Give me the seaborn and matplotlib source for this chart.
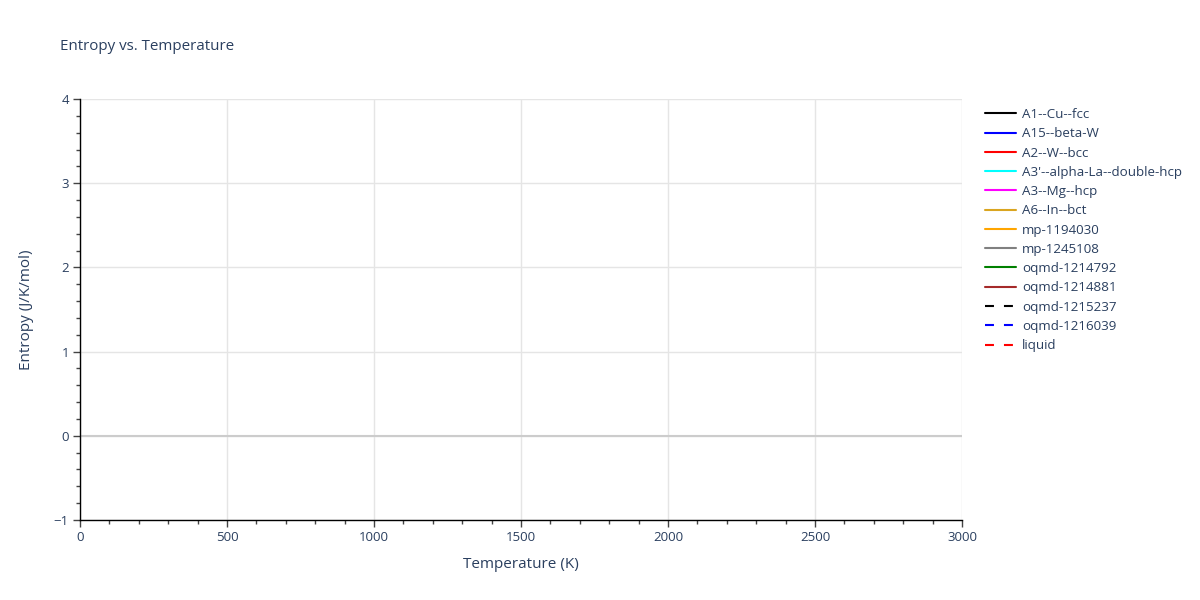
import numpy as np
import pandas as pd
import matplotlib
matplotlib.use('Agg')
import matplotlib.pyplot as plt
import seaborn as sns
from matplotlib.ticker import MultipleLocator

# series shown in the legend (no data points are drawn in the reference)
names = ['A1--Cu--fcc', 'A15--beta-W', 'A2--W--bcc', "A3'--alpha-La--double-hcp",
         'A3--Mg--hcp', 'A6--In--bct', 'mp-1194030', 'mp-1245108',
         'oqmd-1214792', 'oqmd-1214881', 'oqmd-1215237', 'oqmd-1216039', 'liquid']
colors = ['black', 'blue', 'red', 'cyan', 'magenta', 'goldenrod', 'orange', 'grey',
          'green', 'brown', 'black', 'blue', 'red']
dashed = [False] * 10 + [True] * 3
temps = []
entropy = []

x_ticks = [0, 500, 1000, 1500, 2000, 2500, 3000]
y_ticks = [-1, 0, 1, 2, 3, 4]

sns.set_theme(style='white')
plt.rcParams['font.family'] = ['Open Sans', 'DejaVu Sans']
txt = '#2a3f5f'

fig = plt.figure(figsize=(12, 6), dpi=100)
ax = fig.add_axes([80 / 1200, 1 - 520 / 600, 882 / 1200, 421 / 600])

handles = []
for n, c, d in zip(names, colors, dashed):
    df = pd.DataFrame({'T': pd.Series(temps, dtype=float), 'S': pd.Series(entropy, dtype=float)})
    sns.lineplot(data=df, x='T', y='S', ax=ax, color=c, legend=False)
    if d:
        h, = ax.plot(df['T'], df['S'], color=c, linewidth=1.5, dashes=(4.3, 4.8), label=n)
    else:
        h, = ax.plot(df['T'], df['S'], color=c, linewidth=1.5, label=n)
    handles.append(h)

if ax.get_legend() is not None:
    ax.get_legend().remove()

ax.set_xlim(0, 3000)
ax.set_ylim(-1, 4)
ax.set_xticks(x_ticks)
ax.set_yticks(y_ticks)
ax.xaxis.set_minor_locator(MultipleLocator(100))
ax.yaxis.set_minor_locator(MultipleLocator(0.2))
ax.grid(True, which='major', color='#e5e5e5', linewidth=1)
ax.axhline(0, color='#cccccc', linewidth=1.5, zorder=1)
ax.set_axisbelow(True)

for s in ['top', 'right']:
    ax.spines[s].set_visible(False)
for s in ['left', 'bottom']:
    ax.spines[s].set_color('black')
    ax.spines[s].set_linewidth(1)

ax.tick_params(which='major', direction='out', length=5, width=1, color='#444444',
               labelcolor=txt, labelsize=9.5, left=True, bottom=True, pad=3)
ax.tick_params(which='minor', direction='out', length=3, width=1, color='#444444',
               left=True, bottom=True)
ax.set_yticklabels(['\u22121', '0', '1', '2', '3', '4'])

ax.set_xlabel('Temperature (K)', color=txt, fontsize=11, labelpad=9)
ax.set_ylabel('Entropy (J/K/mol)', color=txt, fontsize=11, labelpad=14)

fig.text(60 / 1200, 1 - 47 / 600, 'Entropy vs. Temperature', color=txt, fontsize=10.9,
         va='center', ha='left')

leg = fig.legend(handles=handles, loc='upper left', bbox_to_anchor=(985 / 1200, 1 - 108 / 600),
                 frameon=False, fontsize=9.6, labelcolor=txt, handlelength=2.3,
                 handletextpad=0.5, labelspacing=0.47, borderaxespad=0, borderpad=0)

fig.savefig('out.png', dpi=100, facecolor='white')
